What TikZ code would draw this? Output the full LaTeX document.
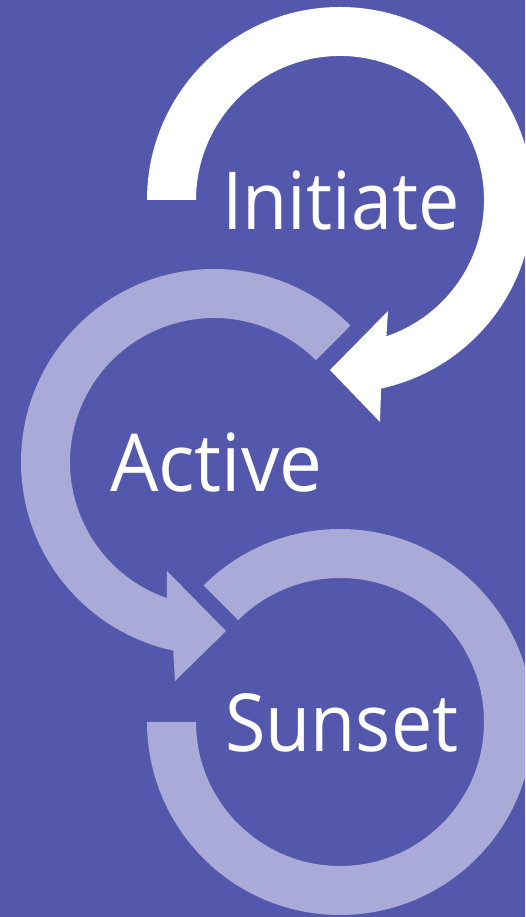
\documentclass[tikz,border=0pt]{standalone}
\usepackage{fontspec}
\setmainfont{Open Sans}[FakeStretch=0.92]
\newfontfamily\activefont{Open Sans}[FakeStretch=0.955]
\definecolor{bg}{RGB}{84,88,172}
\definecolor{lav}{RGB}{169,170,215}
\begin{document}
\begin{tikzpicture}[x=1pt,y=1pt,
  lbl/.style={text=white, font=\fontsize{80}{80}\selectfont, inner sep=0pt, anchor=base west}]
\useasboundingbox (0,0) rectangle (525,917);
\clip (0,0) rectangle (525,917);
\fill[bg] (0,0) rectangle (525,917);
% Initiate arrow (white)
\fill[white] (340,717) ++(180:193) arc[start angle=180, end angle=-77.7, radius=193]
  -- (380,495) -- (330,547) -- (388,606) -- (386.4,580.7)
  arc[start angle=-71.2, end angle=180, radius=144] -- cycle;
% Active arrow (lavender)
\fill[lav] (214,455) ++(45:193) arc[start angle=45, end angle=257.8, radius=193]
  -- (175,236) -- (226,286) -- (167,346) -- (166.9,318.9)
  arc[start angle=250.9, end angle=45, radius=144] -- cycle;
% Sunset ring (lavender)
\fill[lav] (340,195) ++(135:193) arc[start angle=135, end angle=-180, radius=193]
  -- (196,195) arc[start angle=-180, end angle=135, radius=144] -- cycle;
\node[lbl] (initiate) at (222,687) {Initiate};
\node[lbl] (active) at (110,425) {\activefont Active};
\node[lbl] (sunset) at (225,165) {Sunset};
\end{tikzpicture}
\end{document}
